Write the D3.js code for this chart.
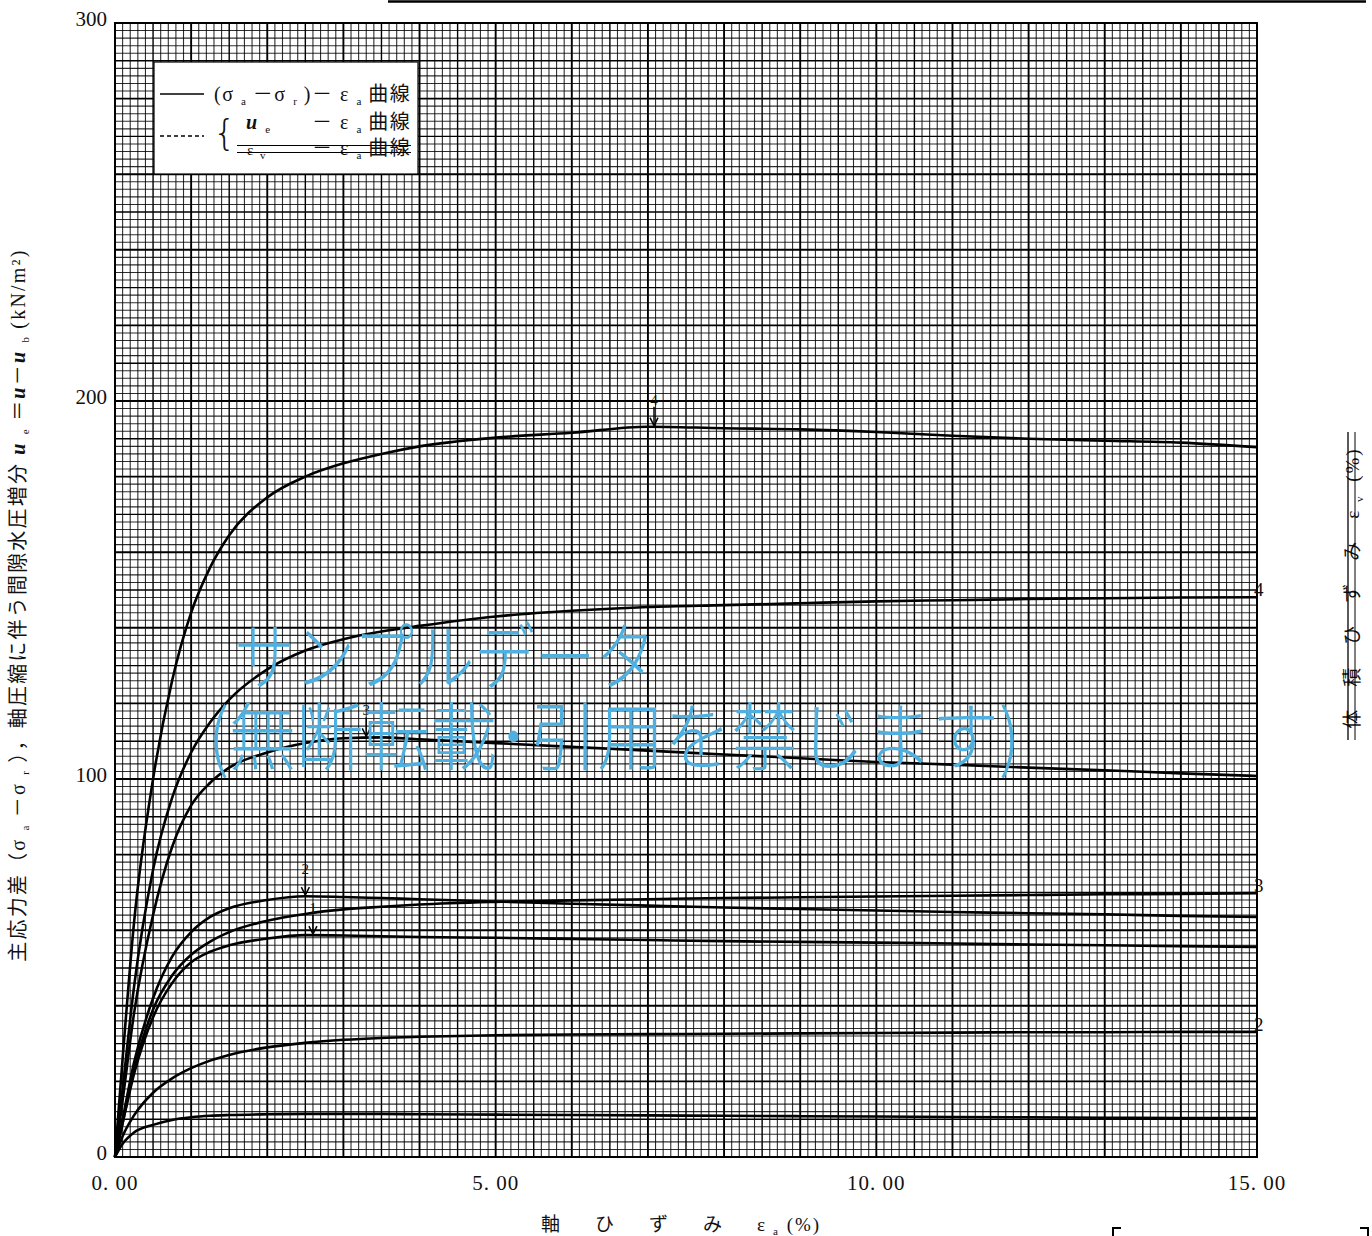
<!DOCTYPE html>
<meta charset="utf-8">
<script src="https://d3js.org/d3.v7.min.js"></script>
<style>
  body { margin: 0; background: #fff; }
  text { font-family: "Liberation Serif", "DejaVu Serif", "Noto Sans CJK JP", serif; fill: #111; }
</style>
<div id="chart"></div>
<script>
// axial strain (%) sample points shared by every curve
var strain = [0, 0.1, 0.25, 0.5, 0.75, 1, 1.25, 1.5, 2, 2.5, 3, 3.5, 4, 5, 6, 7, 8, 9, 10, 11, 12, 13, 14, 15];

// principal stress difference (sigma_a - sigma_r), kN/m2
var dev1 = [0, 9, 22, 37, 46, 51.5, 54.3, 56, 57.8, 58.7, 58.6, 58.4, 58.2, 58, 57.7, 57.4, 57.1, 56.9, 56.7, 56.5, 56.2, 56, 55.8, 55.6];
var dev2 = [0, 10, 25, 42, 53, 59.5, 63.5, 65.8, 68, 69, 68.8, 68.5, 68.2, 67.6, 67, 66.5, 66, 65.6, 65.2, 64.8, 64.5, 64.2, 63.8, 63.5];
var dev3 = [0, 15, 38, 64, 82, 93, 99, 103, 107, 109.5, 110.8, 111, 110.5, 109.5, 108.5, 107.5, 106.5, 105.5, 104.5, 103.8, 103, 102.3, 101.5, 100.8];
var dev4 = [0, 26, 62, 100, 126, 144, 156, 164.5, 174.5, 180, 183.5, 186, 188, 190.3, 191.6, 193.2, 192.8, 192.5, 191.8, 190.8, 190, 189.5, 189, 187.8];

// excess pore pressure u_e, kN/m2
var ue1 = [0, 3.5, 6.5, 8.5, 9.8, 10.5, 10.9, 11.1, 11.3, 11.4, 11.4, 11.4, 11.3, 11.2, 11.1, 11, 10.9, 10.8, 10.7, 10.6, 10.5, 10.4, 10.3, 10.3];
var ue2 = [0, 5.5, 11, 17, 20.8, 23.5, 25.5, 27, 29, 30.2, 31, 31.5, 31.8, 32.2, 32.4, 32.5, 32.6, 32.7, 32.8, 32.9, 33, 33, 33.1, 33.1];
var ue3 = [0, 9, 23, 39, 48, 53.5, 57, 59.5, 62.5, 64.3, 65.5, 66.2, 66.8, 67.5, 67.9, 68.2, 68.5, 68.7, 68.9, 69.1, 69.3, 69.5, 69.6, 69.8];
var ue4 = [0, 18, 45, 76, 95, 107, 115, 121, 129, 134, 137, 139, 140.5, 143, 144.5, 145.5, 146, 146.5, 147, 147.3, 147.6, 147.8, 148, 148.1];

// peak markers on the deviator curves: [label, strain, stress]
var peaks = [["4", 7.08, 193.2], ["3", 3.3, 111], ["2", 2.5, 69], ["1", 2.6, 58.7]];
// end labels on the pore pressure curves
var endLabels = [["4", 148.1], ["3", 69.8], ["2", 33.1]];

var xTicks = [0, 5, 10, 15];
var yTicks = [0, 100, 200, 300];

var W = 1372, H = 1236;
var pLeft = 115, pRight = 1257, pTop = 23, pBottom = 1157;

var svg = d3.select("#chart").append("svg")
    .attr("width", W).attr("height", H);

var x = d3.scaleLinear().domain([0, 15]).range([pLeft, pRight]);
var y = d3.scaleLinear().domain([0, 300]).range([pBottom, pTop]);

// graph paper grid
var grid = svg.append("g");
function gridStyle(sel, i) {
  sel.attr("stroke", "#000")
    .attr("stroke-width", i % 10 === 0 ? 1.9 : (i % 5 === 0 ? 1.4 : 1.1))
    .attr("stroke-opacity", i % 5 === 0 ? 1 : 0.82);
}
d3.range(0, 151).forEach(function(i) {
  var v = i / 10;
  grid.append("line")
    .attr("x1", x(v)).attr("x2", x(v)).attr("y1", pTop).attr("y2", pBottom)
    .call(gridStyle, i);
});
d3.range(0, 151).forEach(function(i) {
  var v = i * 2;
  grid.append("line")
    .attr("y1", y(v)).attr("y2", y(v)).attr("x1", pLeft).attr("x2", pRight)
    .call(gridStyle, i);
});
grid.append("rect")
  .attr("x", pLeft).attr("y", pTop).attr("width", pRight - pLeft).attr("height", pBottom - pTop)
  .attr("fill", "none").attr("stroke", "#000").attr("stroke-width", 2);

// tick labels
svg.append("g").selectAll("text").data(xTicks).enter().append("text")
  .attr("x", function(d) { return x(d); })
  .attr("y", 1190)
  .attr("text-anchor", "middle")
  .style("font-size", "21px")
  .style("letter-spacing", "1px")
  .text(function(d) { return d3.format(".2f")(d).replace(".", ". "); });

svg.append("g").selectAll("text").data(yTicks).enter().append("text")
  .attr("x", 107)
  .attr("y", function(d) { return y(d) + 3; })
  .attr("text-anchor", "end")
  .style("font-size", "21px")
  .text(function(d) { return d; });

// curves
var line = d3.line()
  .x(function(d, i) { return x(strain[i]); })
  .y(function(d) { return y(d); })
  .curve(d3.curveMonotoneX);

[dev1, dev2, dev3, dev4, ue1, ue2, ue3, ue4].forEach(function(s) {
  svg.append("path")
    .datum(s)
    .attr("fill", "none")
    .attr("stroke", "#000")
    .attr("stroke-width", 2.6)
    .attr("d", line);
});

// peak arrows
peaks.forEach(function(p) {
  var px = x(p[1]), py = y(p[2]);
  svg.append("line").attr("x1", px).attr("x2", px).attr("y1", py - 20).attr("y2", py - 2)
    .attr("stroke", "#000").attr("stroke-width", 1.5);
  svg.append("path").attr("d", "M" + (px - 4) + "," + (py - 9) + " L" + px + "," + (py - 1) + " L" + (px + 4) + "," + (py - 9))
    .attr("fill", "none").attr("stroke", "#000").attr("stroke-width", 1.5);
  svg.append("text").attr("x", px).attr("y", py - 22).attr("text-anchor", "middle")
    .style("font-size", "15px").text(p[0]);
});

endLabels.forEach(function(p) {
  svg.append("text").attr("x", pRight - 3).attr("y", y(p[1]) - 1)
    .style("font-size", "19px").text(p[0]);
});

// legend box
var lg = svg.append("g");
lg.append("rect").attr("x", 154).attr("y", 62).attr("width", 264).attr("height", 112)
  .attr("fill", "#fff").attr("stroke", "#000").attr("stroke-width", 1.2);
lg.append("line").attr("x1", 160).attr("x2", 204).attr("y1", 94).attr("y2", 94)
  .attr("stroke", "#000").attr("stroke-width", 1.3);
lg.append("line").attr("x1", 160).attr("x2", 204).attr("y1", 136).attr("y2", 136)
  .attr("stroke", "#000").attr("stroke-width", 1.3).attr("stroke-dasharray", "4,3");

function sub(t, s) {
  t.append("tspan").attr("dy", 4).style("font-size", "11px").text(s);
  t.append("tspan").attr("dy", -4).text("\u2009");
}

var t1 = lg.append("text").attr("x", 214).attr("y", 101).style("font-size", "20px").style("letter-spacing", "1.5px");
t1.append("tspan").text("(σ ");
sub(t1, "a");
t1.append("tspan").text("－σ ");
sub(t1, "r");
t1.append("tspan").text(")－ ε ");
sub(t1, "a");
t1.append("tspan").text("曲線");

lg.append("text").attr("x", 213).attr("y", 145).style("font-size", "36px").style("font-weight", "200")
  .style("font-family", "DejaVu Sans").text("{");

var t2 = lg.append("text").attr("x", 246).attr("y", 129).style("font-size", "20px").style("letter-spacing", "1.5px");
t2.append("tspan").style("font-weight", "bold").style("font-style", "italic").text("u ");
sub(t2, "e");
t2.append("tspan").attr("x", 312).text("－ ε ");
sub(t2, "a");
t2.append("tspan").text("曲線");

var t3 = lg.append("text").attr("x", 247).attr("y", 155).style("font-size", "20px").style("letter-spacing", "1.5px");
t3.append("tspan").style("font-size", "15px").text("ε ");
sub(t3, "v");
t3.append("tspan").attr("x", 312).text("－ ε ");
sub(t3, "a");
t3.append("tspan").text("曲線");
lg.append("line").attr("x1", 237).attr("x2", 411).attr("y1", 145.5).attr("y2", 145.5).attr("stroke", "#000").attr("stroke-width", 1);
lg.append("line").attr("x1", 237).attr("x2", 411).attr("y1", 152.5).attr("y2", 152.5).attr("stroke", "#000").attr("stroke-width", 1);

// axis titles
var xt = svg.append("text").attr("x", 541).attr("y", 1231)
  .style("font-size", "19px").style("letter-spacing", "8px");
xt.append("tspan").text("軸　ひ　ず　み　ε");
xt.append("tspan").attr("dy", 4).style("font-size", "11px").style("letter-spacing", "2px").text("a");
xt.append("tspan").attr("dy", -4).style("letter-spacing", "2px").text(" (%)");

var yt = svg.append("text").attr("transform", "translate(25,605) rotate(-90)")
  .attr("text-anchor", "middle").style("font-size", "20px").style("letter-spacing", "2.2px");
yt.append("tspan").text("主応力差（σ ");
sub(yt, "a");
yt.append("tspan").text("－σ ");
sub(yt, "r");
yt.append("tspan").text("），軸圧縮に伴う間隙水圧増分 ");
yt.append("tspan").style("font-weight", "bold").style("font-style", "italic").text("u ");
sub(yt, "e");
yt.append("tspan").text("＝");
yt.append("tspan").style("font-weight", "bold").style("font-style", "italic").text("u");
yt.append("tspan").text("－");
yt.append("tspan").style("font-weight", "bold").style("font-style", "italic").text("u ");
sub(yt, "b");
yt.append("tspan").text("(kN/m²)");

var rt = svg.append("text").attr("transform", "translate(1359,588) rotate(-90)")
  .attr("text-anchor", "middle").style("font-size", "19px").style("letter-spacing", "2px");
rt.append("tspan").text("体　積　ひ　ず　み　ε ");
sub(rt, "v");
rt.append("tspan").text(" (%)");
svg.append("line").attr("x1", 1348).attr("x2", 1348).attr("y1", 432).attr("y2", 740)
  .attr("stroke", "#000").attr("stroke-width", 1.3);
svg.append("line").attr("x1", 1355).attr("x2", 1355).attr("y1", 432).attr("y2", 740)
  .attr("stroke", "#000").attr("stroke-width", 1);

// top rule
svg.append("line").attr("x1", 388).attr("x2", 1366).attr("y1", 1.5).attr("y2", 1.5)
  .attr("stroke", "#000").attr("stroke-width", 2.5);

// clipped brackets at the bottom edge
svg.append("path").attr("d", "M1121,1228 L1113,1228 L1113,1236").attr("fill", "none").attr("stroke", "#000").attr("stroke-width", 2);
svg.append("path").attr("d", "M1360,1228 L1368,1228 L1368,1236").attr("fill", "none").attr("stroke", "#000").attr("stroke-width", 2);

// watermark
var wm = svg.append("g");
wm.append("text").attr("x", 234).attr("y", 684).attr("textLength", 422).attr("lengthAdjust", "spacingAndGlyphs")
  .style("font-size", "74px").style("fill", "#4fb0e0")
  .style("font-family", "Noto Sans CJK JP").style("font-weight", "300").text("サンプルデータ");
wm.append("text").attr("x", 208).attr("y", 764).attr("textLength", 812).attr("lengthAdjust", "spacingAndGlyphs")
  .style("font-size", "74px").style("fill", "#4fb0e0")
  .style("font-family", "Noto Sans CJK JP").style("font-weight", "300").text("(無断転載･引用を禁じます)");
</script>
